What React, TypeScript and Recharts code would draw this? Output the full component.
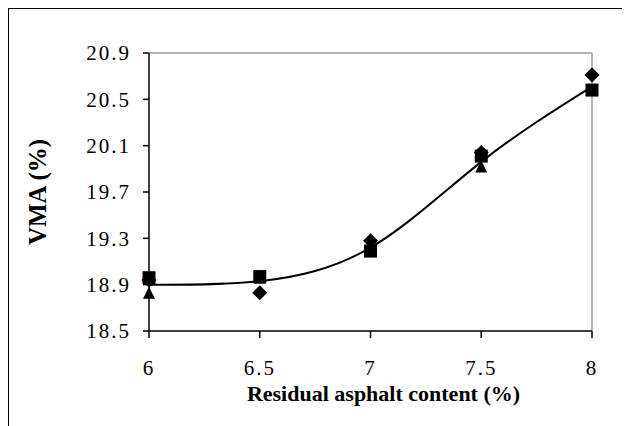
import React from 'react';
import { ComposedChart, Scatter, Line, XAxis, YAxis, ReferenceLine, Label } from 'recharts';

// residual asphalt content (%) and VMA (%) for the three replicate sets
const contents = [6, 6.5, 7, 7.5, 8];
const vmaDiamond = [18.94, 18.83, 19.28, 20.04, 20.71];
const vmaSquare = [18.96, 18.97, 19.19, 20.01, 20.58];
const vmaTriangle = [18.83, 18.96, 19.19, 19.92, 20.58];
// fitted trend curve
const fitValues = [18.9, 18.93, 19.22, 19.96, 20.61];

const yTicks = [18.5, 18.9, 19.3, 19.7, 20.1, 20.5, 20.9];
const xTicks = [6, 6.5, 7, 7.5, 8];

const toPoints = (vals: number[]) => contents.map((x, i) => ({ x, y: vals[i] }));
const fitData = toPoints(fitValues);

const FONT = 'Liberation Serif';
const tickStyle = { fill: '#000', fontSize: 21, fontFamily: FONT, letterSpacing: 2 };

const Diamond = (props: any) => {
  const { cx, cy } = props;
  const r = 7.5;
  return <polygon points={`${cx},${cy - r} ${cx + r},${cy} ${cx},${cy + r} ${cx - r},${cy}`} fill="#000" />;
};

const Square = (props: any) => {
  const { cx, cy } = props;
  return <rect x={cx - 6.5} y={cy - 6.5} width={13} height={13} fill="#000" />;
};

const Triangle = (props: any) => {
  const { cx, cy } = props;
  return <polygon points={`${cx},${cy - 6} ${cx + 6},${cy + 6} ${cx - 6},${cy + 6}`} fill="#000" />;
};

const App: React.FC = () => {
  return (
    <div style={{ width: 618, height: 430, border: '1px solid #000', fontFamily: FONT }}>
      <style>{`.recharts-wrapper text, .recharts-wrapper tspan { font-family: 'Liberation Serif', serif !important; }`}</style>
      <ComposedChart width={618} height={420} margin={{ top: 44, right: 35, left: 70, bottom: 38 }}>
        <XAxis
          dataKey="x"
          type="number"
          domain={[6, 8]}
          ticks={xTicks}
          stroke="#000"
          strokeWidth={1.5}
          tickSize={7}
          tick={tickStyle}
          tickMargin={22}
          height={60}
        >
          <Label value="Residual asphalt content (%)" position="insideBottom" offset={-10} dx={13}
            style={{ fill: '#000', fontSize: 22, fontWeight: 'bold', fontFamily: FONT }} />
        </XAxis>
        <YAxis
          dataKey="y"
          type="number"
          domain={[18.5, 20.9]}
          ticks={yTicks}
          stroke="#000"
          strokeWidth={1.5}
          tickSize={6}
          tick={tickStyle}
          tickMargin={12}
          width={70}
        >
          <Label value="VMA (%)" angle={-90} position="insideLeft" offset={-42}
            style={{ fill: '#000', fontSize: 25, fontWeight: 'bold', fontFamily: FONT, textAnchor: 'middle' }} />
        </YAxis>
        <ReferenceLine y={20.9} stroke="#999" strokeWidth={1.5} />
        <ReferenceLine x={8} stroke="#999" strokeWidth={1.5} />
        <Line data={fitData} dataKey="y" type="natural" stroke="#000" strokeWidth={2} dot={false} isAnimationActive={false} />
        <Scatter data={toPoints(vmaTriangle)} dataKey="y" shape={<Triangle />} isAnimationActive={false} />
        <Scatter data={toPoints(vmaDiamond)} dataKey="y" shape={<Diamond />} isAnimationActive={false} />
        <Scatter data={toPoints(vmaSquare)} dataKey="y" shape={<Square />} isAnimationActive={false} />
      </ComposedChart>
    </div>
  );
};

export default App;
